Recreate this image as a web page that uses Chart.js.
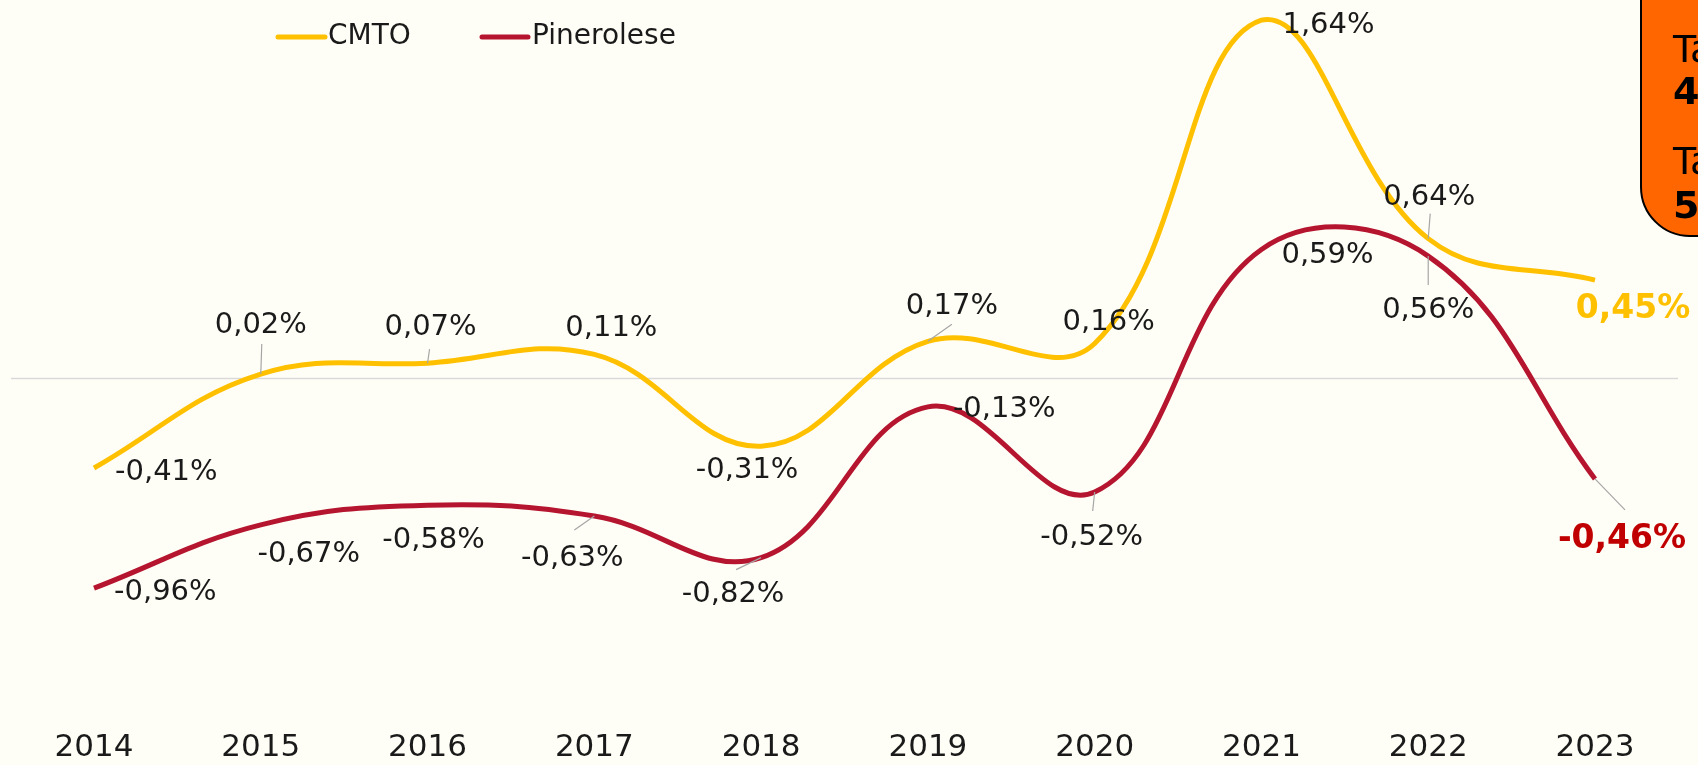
<!DOCTYPE html>
<html>
<head>
<meta charset="utf-8">
<script src="https://cdn.jsdelivr.net/npm/chart.js@4.4.1/dist/chart.umd.min.js"></script>
<style>
  html, body { margin: 0; padding: 0; background: #fffef6; overflow: hidden; }
  #wrap { position: relative; width: 1698px; height: 765px; }
  #box {
    position: absolute; left: 1640px; top: -30px; width: 120px; height: 263px;
    background: #ff6600; border: 2px solid #000; border-radius: 0 0 0 50px;
    font-family: "DejaVu Sans", sans-serif; font-size: 38px; color: #000;
  }
  #box div { position: absolute; left: 31px; white-space: nowrap; }
</style>
</head>
<body>
<div id="wrap">
  <canvas id="chart" width="1698" height="765"></canvas>
  <div id="box">
    <div style="top:55px">Ta</div>
    <div style="top:97px;font-weight:bold">4</div>
    <div style="top:167px">Ta</div>
    <div style="top:211px;font-weight:bold">5</div>
  </div>
</div>
<script>
const years = ["2014", "2015", "2016", "2017", "2018", "2019", "2020", "2021", "2022", "2023"];
const cmto = [-0.41, 0.02, 0.07, 0.11, -0.31, 0.17, 0.16, 1.64, 0.64, 0.45];
const pinerolese = [-0.96, -0.67, -0.58, -0.63, -0.82, -0.13, -0.52, 0.59, 0.56, -0.46];

const YELLOW = "#ffc000";
const RED = "#b5152f";

// label placement: [dx, dy, align, leaderDx, leaderDy]
const cmtoLabelPos = [
  [21, 4, "left"], [0, -49, "center", 1, -30], [3, -36, "center", 2, -14], [17, -26, "center"],
  [-14, 24, "center"], [24, -35, "center", 24, -17], [14, -21, "center"],
  [21, 5, "left"], [1, -41, "center", 2, -25], [38, 29, "center"]
];
const pineLabelPos = [
  [20, 4, "left"], [48, 30, "center"], [6, 35, "center"], [-22, 42, "center", -20, 14],
  [-28, 37, "center", -25, 12], [25, 3, "left"], [-3, 45, "center", -2, 19],
  [20, 6, "left"], [0, 54, "center", 0, 29], [27, 60, "center", 30, 31]
];

function fmt(v) {
  return v.toFixed(2).replace(".", ",") + "%";
}

const labelPlugin = {
  id: "labels",
  beforeDatasetsDraw(chart) {
    const ctx = chart.ctx;
    const y0 = chart.scales.y.getPixelForValue(0);
    ctx.save();
    ctx.strokeStyle = "#d9d9d9";
    ctx.lineWidth = 1.5;
    ctx.beginPath();
    ctx.moveTo(11, y0);
    ctx.lineTo(1678, y0);
    ctx.stroke();
    ctx.restore();
  },
  afterDatasetsDraw(chart) {
    const ctx = chart.ctx;
    const posList = [cmtoLabelPos, pineLabelPos];
    ctx.save();
    chart.data.datasets.forEach((ds, di) => {
      const meta = chart.getDatasetMeta(di);
      meta.data.forEach((pt, i) => {
        const p = posList[di][i];
        const last = i === ds.data.length - 1;
        if (p[3] !== undefined) {
          ctx.strokeStyle = "#a6a6a6";
          ctx.lineWidth = 1.2;
          ctx.beginPath();
          ctx.moveTo(pt.x, pt.y);
          ctx.lineTo(pt.x + p[3], pt.y + p[4]);
          ctx.stroke();
        }
        ctx.font = last ? "bold 33px 'DejaVu Sans'" : "29px 'DejaVu Sans'";
        ctx.fillStyle = last ? (di === 0 ? YELLOW : "#c00000") : "#1a1a1a";
        ctx.textAlign = p[2];
        ctx.textBaseline = "middle";
        ctx.fillText(fmt(ds.data[i]), pt.x + p[0], pt.y + p[1]);
      });
    });

    // legend
    const items = [[278, 325, 328, 0], [482, 528, 532, 1]];
    ctx.font = "28px 'DejaVu Sans'";
    ctx.textAlign = "left";
    ctx.textBaseline = "middle";
    items.forEach(it => {
      const ds = chart.data.datasets[it[3]];
      ctx.strokeStyle = ds.borderColor;
      ctx.lineWidth = 5;
      ctx.lineCap = "round";
      ctx.beginPath();
      ctx.moveTo(it[0], 37);
      ctx.lineTo(it[1], 37);
      ctx.stroke();
      ctx.fillStyle = "#1a1a1a";
      ctx.fillText(ds.label, it[2], 37);
    });
    ctx.restore();
  }
};

const ctx = document.getElementById("chart").getContext("2d");
const lineChart = new Chart(ctx, {
  type: "line",
  data: {
    labels: years,
    datasets: [
      {
        label: "CMTO",
        data: cmto,
        borderColor: YELLOW,
        borderWidth: 5,
        tension: 0.4,
        pointRadius: 0,
        fill: false,
        clip: false,
      },
      {
        label: "Pinerolese",
        data: pinerolese,
        borderColor: RED,
        borderWidth: 5,
        tension: 0.4,
        pointRadius: 0,
        fill: false,
        clip: false,
      },
    ],
  },
  options: {
    responsive: false,
    animation: false,
    layout: { padding: { left: 94, right: 103, top: 7, bottom: 0 } },
    plugins: { legend: { display: false }, tooltip: { enabled: false } },
    scales: {
      x: {
        offset: false,
        grid: { display: false, drawTicks: false },
        border: { display: false },
        afterFit: (scale) => { scale.height = 49; },
        ticks: { color: "#1a1a1a", padding: 16, maxRotation: 0, font: { family: "DejaVu Sans", size: 31, lineHeight: 1 } },
      },
      y: {
        display: false,
        min: -1.545,
        max: 1.7,
      },
    },
  },
  plugins: [labelPlugin],
});
</script>
</body>
</html>
